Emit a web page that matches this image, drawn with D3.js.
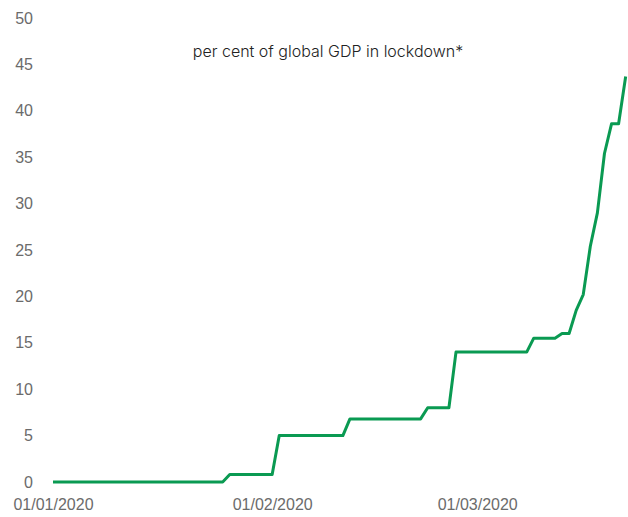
<!DOCTYPE html>
<html>
<head>
<meta charset="utf-8">
<script src="https://cdn.jsdelivr.net/npm/d3@7"></script>
<style>
  body { margin: 0; background: #fff; }
  svg { display: block; font-family: Inter, sans-serif; }
  .axis text { fill: #6b6b6b; font-size: 16px; font-weight: 300; }
</style>
</head>
<body>
<div id="chart"></div>
<script>
const width = 628;
const height = 517;

const title = "per cent of global GDP in lockdown*";

// daily values from 01/01/2020 to 22/03/2020
const startDate = new Date(2020, 0, 1);
const gdpShare = [
    0, 0, 0, 0, 0, 0, 0, 0, 0, 0,
    0, 0, 0, 0, 0, 0, 0, 0, 0, 0,
    0, 0, 0, 0, 0,
    0.8, 0.8, 0.8, 0.8, 0.8, 0.8, 0.8,
    5, 5, 5, 5, 5, 5, 5, 5, 5, 5,
    6.8, 6.8, 6.8, 6.8, 6.8, 6.8, 6.8, 6.8, 6.8, 6.8, 6.8,
    8, 8, 8, 8,
    14, 14, 14, 14, 14, 14, 14, 14, 14, 14, 14,
    15.5, 15.5, 15.5, 15.5,
    16, 16,
    18.5, 20.2, 25.4, 29, 35.4, 38.6, 38.6, 43.7
];
const yTicks = [0, 5, 10, 15, 20, 25, 30, 35, 40, 45, 50];
const xTicks = [new Date(2020, 0, 1), new Date(2020, 1, 1), new Date(2020, 2, 1)];

const data = gdpShare.map((v, i) => ({
    date: d3.timeDay.offset(startDate, i),
    value: v
}));

let svg = d3.select("#chart").append("svg")
    .attr("width", width)
    .attr("height", height);

let xScale = d3.scaleTime()
    .domain([startDate, data[data.length - 1].date])
    .range([53, 53 + 7.07 * (data.length - 1)]);

let yScale = d3.scaleLinear()
    .domain([0, 50])
    .range([482, 18]);

svg.append("g")
    .attr("class", "axis axis--y")
    .attr("transform", "translate(52,0)")
    .call(d3.axisLeft(yScale).tickValues(yTicks).tickSize(0).tickPadding(19))
    .call(g => g.select(".domain").remove());

svg.append("g")
    .attr("class", "axis axis--x")
    .attr("transform", "translate(0,482)")
    .call(d3.axisBottom(xScale).tickValues(xTicks).tickSize(0).tickPadding(17)
        .tickFormat(d3.timeFormat("%d/%m/%Y")))
    .call(g => g.select(".domain").remove());

svg.append("text")
    .attr("x", 328)
    .attr("y", 57)
    .attr("text-anchor", "middle")
    .style("font-size", "16px")
    .style("font-weight", 300)
    .attr("fill", "#222")
    .text(title);

let line = d3.line()
    .x(d => xScale(d.date))
    .y(d => yScale(d.value));

svg.append("path")
    .datum(data)
    .attr("fill", "none")
    .attr("stroke", "#0a9a52")
    .attr("stroke-width", 3)
    .attr("stroke-linejoin", "round")
    .attr("d", line);
</script>
</body>
</html>
